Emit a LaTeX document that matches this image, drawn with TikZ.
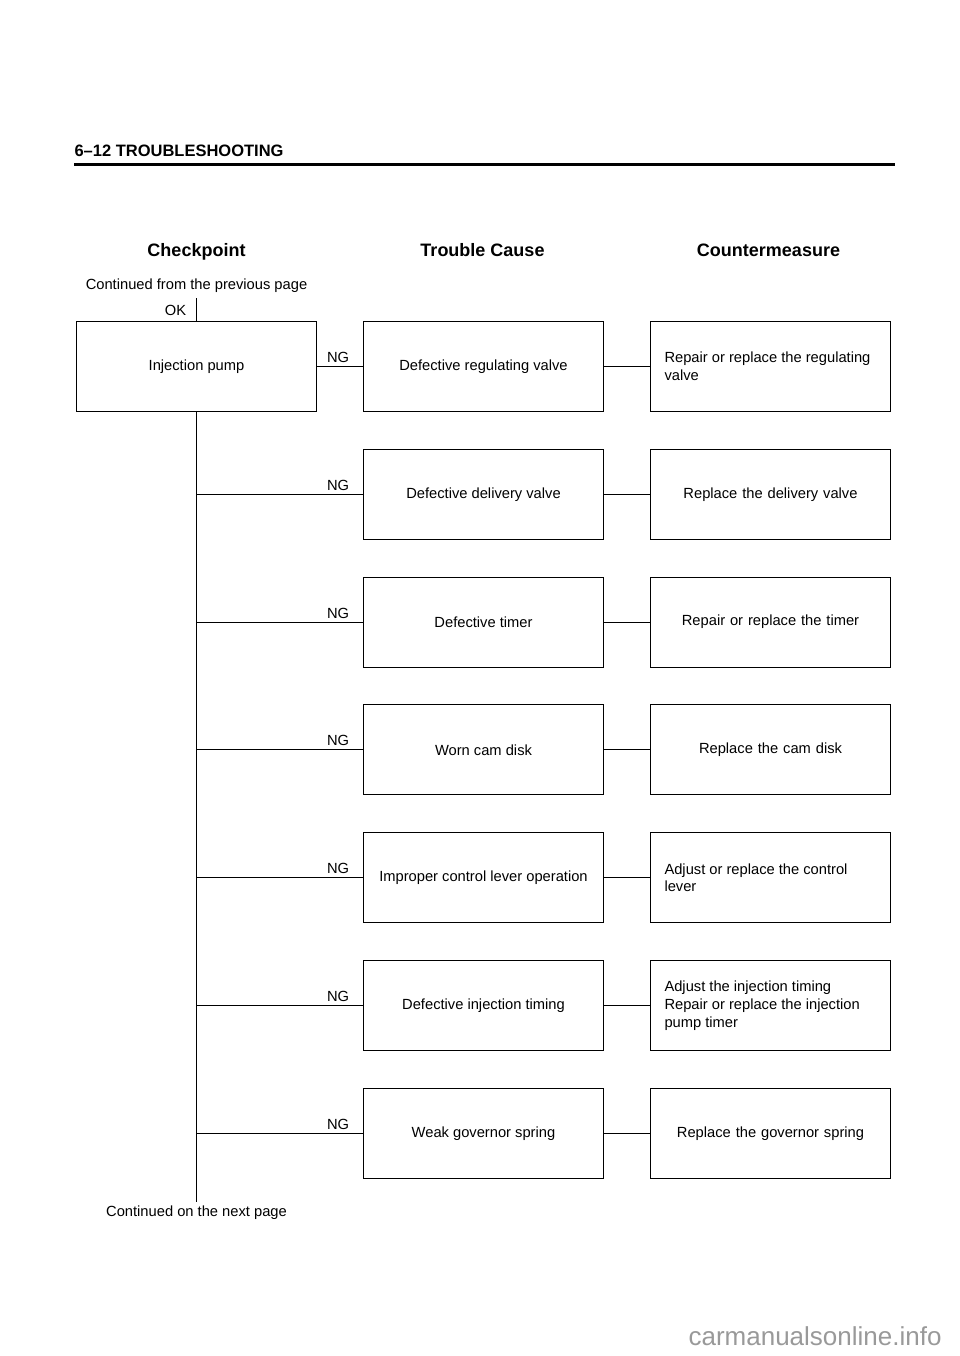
\documentclass[tikz,border=0pt]{standalone}
\usepackage{fontspec}
\setmainfont{Liberation Sans}
\usetikzlibrary{positioning}

\begin{document}
\begin{tikzpicture}[x=1pt,y=1pt,line width=1pt,node distance=36.8pt and 46pt,
  every node/.style={font=\fontsize{14.7}{17.7}\selectfont},
  head/.style={anchor=base,font=\bfseries\fontsize{18}{21}\selectfont},
  cause/.style={draw,minimum width=240pt,minimum height=90pt,align=center},
  measure/.style={draw,minimum width=240pt,minimum height=90pt,text width=212pt,inner xsep=14pt,align=flush left},
  ng/.style={pos=1,above left,xshift=-10pt}]
  \useasboundingbox (0,0) rectangle (960,-1356);

  \node[anchor=west,inner sep=0pt,font=\bfseries\fontsize{16.5}{19}\selectfont] (title) at (74,-151) {6--12 TROUBLESHOOTING};
  \draw[line width=2.5pt] (74,-164.5) -- (895,-164.5);

  \node[head] (hcheck)   at (196.5,-257) {Checkpoint};
  \node[head] (hcause)   at (482.5,-257) {Trouble Cause};
  \node[head] (hmeasure) at (768.5,-257) {Countermeasure};

  \node (prev) at (196.5,-285.5) {Continued from the previous page};
  \coordinate (okend) at (196.5,-298);
  \node[anchor=east] (ok) at (190,-310) {OK};

  \node[cause] (pump) at (196.5,-366.5) {Injection pump};
  \node[cause]   (c1) [right=of pump] {Defective regulating valve};
  \node[measure] (m1) [right=of c1]   {Repair or replace the regulating\\valve};
  \node[cause]   (c2) [below=of c1]   {Defective delivery valve};
  \node[measure,align=center] (m2) [right=of c2] {Replace the delivery valve};
  \node[cause]   (c3) [below=of c2]   {Defective timer};
  \node[measure,align=center] (m3) [right=of c3] {Repair or replace the timer};
  \node[cause]   (c4) [below=of c3]   {Worn cam disk};
  \node[measure,align=center] (m4) [right=of c4] {Replace the cam disk};
  \node[cause]   (c5) [below=of c4]   {Improper control lever operation};
  \node[measure] (m5) [right=of c5]   {Adjust or replace the control\\lever};
  \node[cause]   (c6) [below=of c5]   {Defective injection timing};
  \node[measure] (m6) [right=of c6]   {Adjust the injection timing\\Repair or replace the injection\\pump timer};
  \node[cause]   (c7) [below=of c6]   {Weak governor spring};
  \node[measure,align=center] (m7) [right=of c7] {Replace the governor spring};

  \coordinate (trunkend) at (196.5,-1202);
  \node[below=0pt of trunkend] (next) {Continued on the next page};

  \draw (okend) -- (pump.north);
  \draw (pump.south) -- (trunkend);
  \draw (pump.east) -- node[ng]{NG} (c1.west);
  \foreach \i in {2,...,7}
    \draw (pump.south |- c\i.west) -- node[ng]{NG} (c\i.west);
  \foreach \i in {1,...,7}
    \draw (c\i) -- (m\i);

  \node[anchor=base east,inner sep=0pt,text=black!40,font=\fontsize{26}{30}\selectfont] (site) at (942,-1345) {carmanualsonline.info};
\end{tikzpicture}
\end{document}
